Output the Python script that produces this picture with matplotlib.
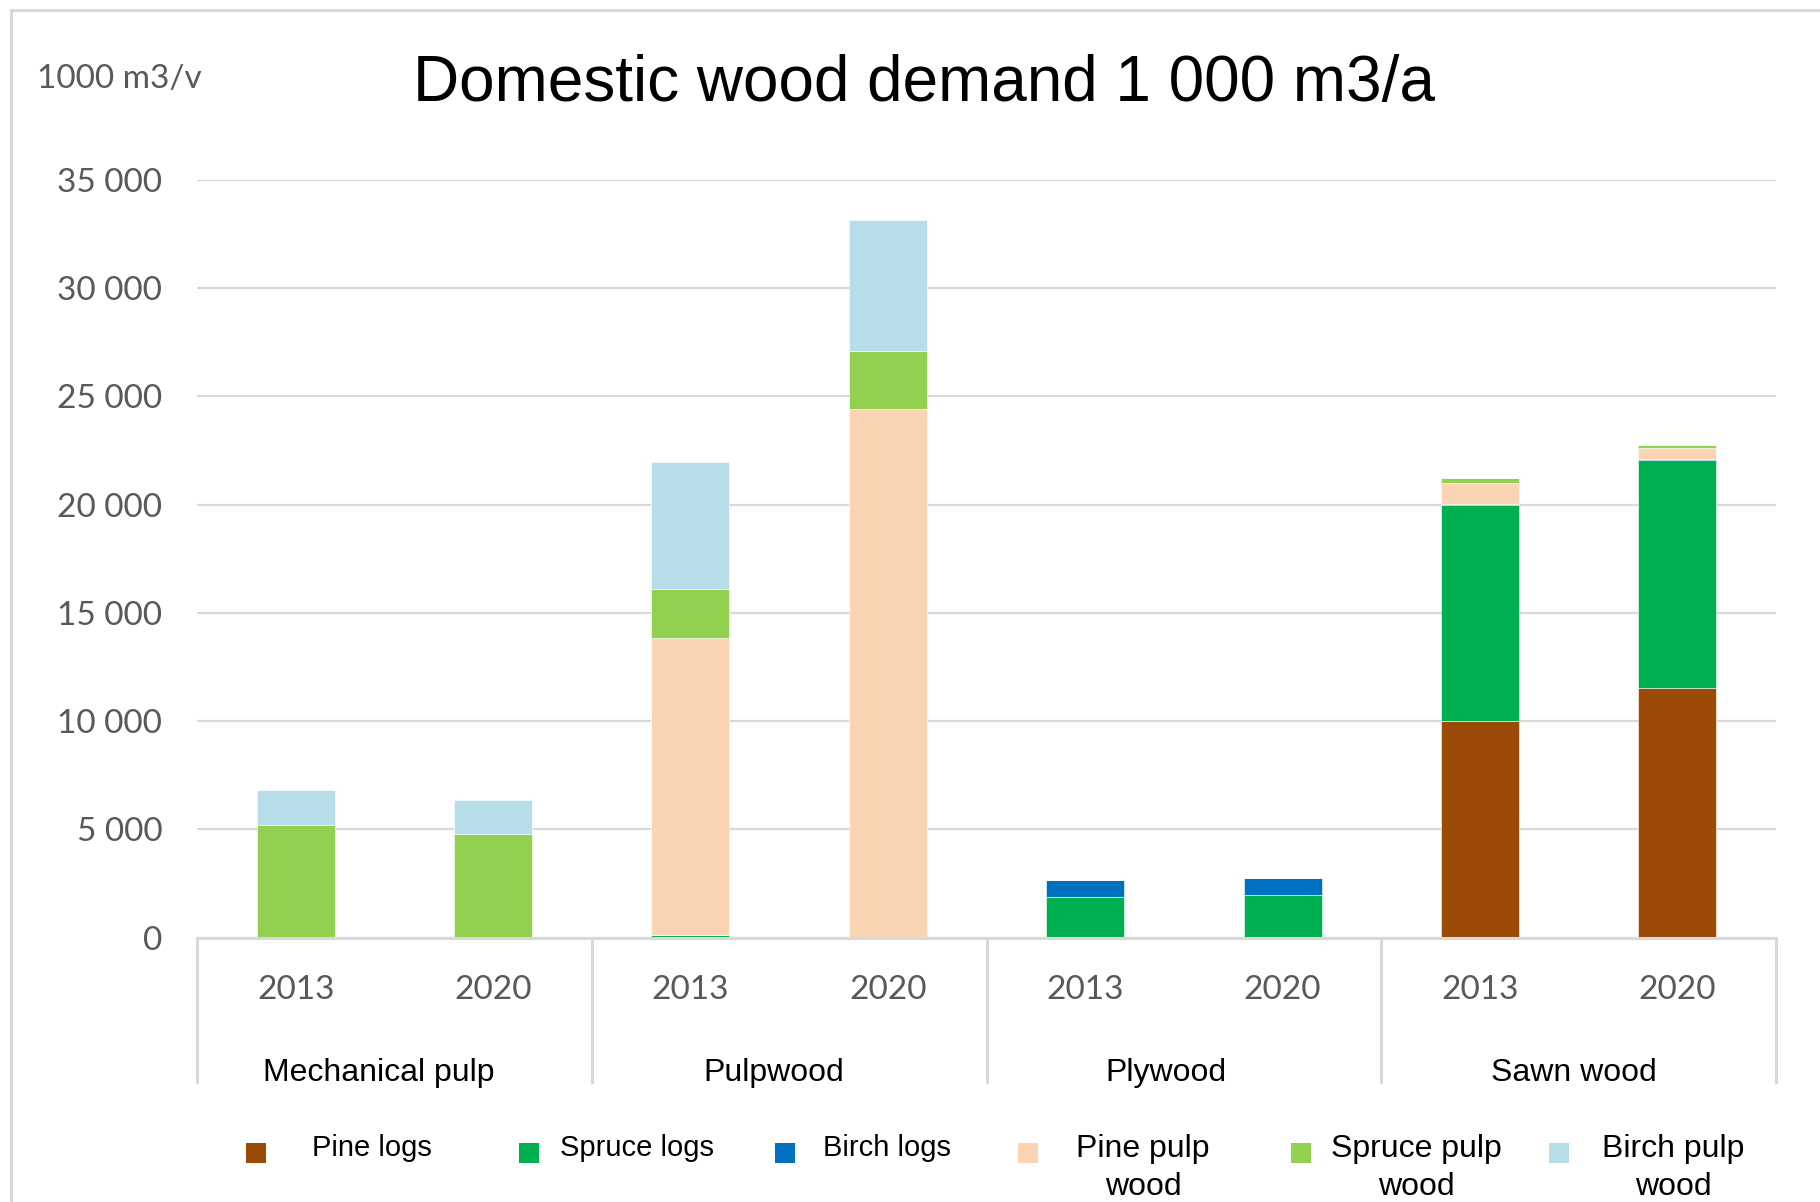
import numpy as np
import matplotlib
matplotlib.use("Agg")
import matplotlib.pyplot as plt
from matplotlib.patches import Rectangle
from matplotlib.transforms import blended_transform_factory

# data (1000 m3/a)
groups = ["Mechanical pulp", "Pulpwood", "Plywood", "Sawn wood"]
years = ["2013", "2020"]
series = ["Pine logs", "Spruce logs", "Birch logs",
          "Pine pulp\nwood", "Spruce pulp\nwood", "Birch pulp\nwood"]
pine_logs = [0, 0, 40, 0, 0, 0, 10000, 11550]
spruce_logs = [0, 0, 60, 0, 1850, 1950, 10000, 10500]
birch_logs = [0, 0, 0, 0, 800, 800, 50, 60]
pine_pulp = [0, 0, 13750, 24400, 0, 0, 950, 520]
spruce_pulp = [5200, 4800, 2250, 2700, 0, 0, 230, 130]
birch_pulp = [1600, 1570, 5850, 6050, 0, 0, 0, 0]

colors = ["#9C4A08", "#00B050", "#0070C0", "#FBD4B4", "#92D050", "#B7DEE8"]
values = [pine_logs, spruce_logs, birch_logs, pine_pulp, spruce_pulp, birch_pulp]

W, H = 1820, 1202
fig = plt.figure(figsize=(W / 100, H / 100), dpi=100)

# outer chart border
fig.patches.append(Rectangle((11 / W, -0.05), 1.2, 1 - 10 / H + 0.05,
                             transform=fig.transFigure, fill=False,
                             edgecolor="#d9d9d9", linewidth=2.2))

ax = fig.add_axes([197 / W, 1 - 937.5 / H, (1776 - 197) / W, (937.5 - 180) / H])

x = np.arange(len(groups) * len(years))
bottom = np.zeros(len(x))
for name, vals, col in zip(series, values, colors):
    ax.bar(x, vals, width=0.395, bottom=bottom, color=col,
           edgecolor="white", linewidth=0.4, zorder=3)
    bottom += np.array(vals)

ax.set_xlim(-0.5, len(x) - 0.5)
ax.set_ylim(0, 35000)
yt = np.arange(0, 35001, 5000)
ax.set_yticks(yt)
ax.set_yticklabels([f"{v:,}".replace(",", " ") for v in yt],
                   fontfamily="Lato", fontsize=24, color="#595959")
ax.tick_params(axis="y", length=0, pad=25)
ax.tick_params(axis="x", length=0)
ax.set_xticks([])
ax.grid(axis="y", color="#d9d9d9", linewidth=1.6, zorder=0)
for s in ax.spines.values():
    s.set_visible(False)

# category axis: years, groups and separators
tr = blended_transform_factory(ax.transData, ax.transAxes)
for i, xi in enumerate(x):
    ax.text(xi, -(990 - 937.5) / 757.5, years[i % 2], transform=tr,
            ha="center", va="center", fontfamily="Lato", fontsize=24,
            color="#595959")
group_shift = [-0.08, -0.08, -0.09, -0.025]
for g, name in enumerate(groups):
    ax.text(2 * g + 0.5 + group_shift[g], -(1073 - 937.5) / 757.5, name,
            transform=tr, ha="center", va="center",
            fontfamily="Liberation Sans", fontsize=23, color="black")
for b in np.arange(-0.5, len(x), 2):
    ax.plot([b, b], [0, -(1082 - 937.5) / 757.5], transform=tr,
            color="#d9d9d9", linewidth=2.2, clip_on=False)
ax.plot([-0.5, len(x) - 0.5], [0, 0], transform=tr, color="#d9d9d9",
        linewidth=2.2, clip_on=False, zorder=4)

# title and unit
fig.text(924 / W, 1 - 84 / H, "Domestic wood demand 1 000 m3/a",
         ha="center", va="center", fontfamily="Liberation Sans", fontsize=46)
fig.text(119 / W, 1 - 79 / H, "1000 m3/v", ha="center", va="center",
         fontfamily="Lato", fontsize=24, color="#595959")

# legend
marker_x = [256, 529, 785, 1028, 1301, 1559]
text_x = [372, 637, 887, 1143, 1416, 1673]
legend_size = [21, 21, 21, 23, 23, 23]
for mx, tx, fs, name, col in zip(marker_x, text_x, legend_size, series, colors):
    fig.patches.append(Rectangle(((mx - 10) / W, 1 - 1163 / H), 20 / W, 20 / H,
                                 transform=fig.transFigure, facecolor=col,
                                 edgecolor="none"))
    fig.text(tx / W, 1 - 1134 / H, name, ha="center", va="top",
             fontfamily="Liberation Sans", fontsize=fs, multialignment="center",
             linespacing=1.36, transform=fig.transFigure)

fig.savefig("out.png", dpi=100)
